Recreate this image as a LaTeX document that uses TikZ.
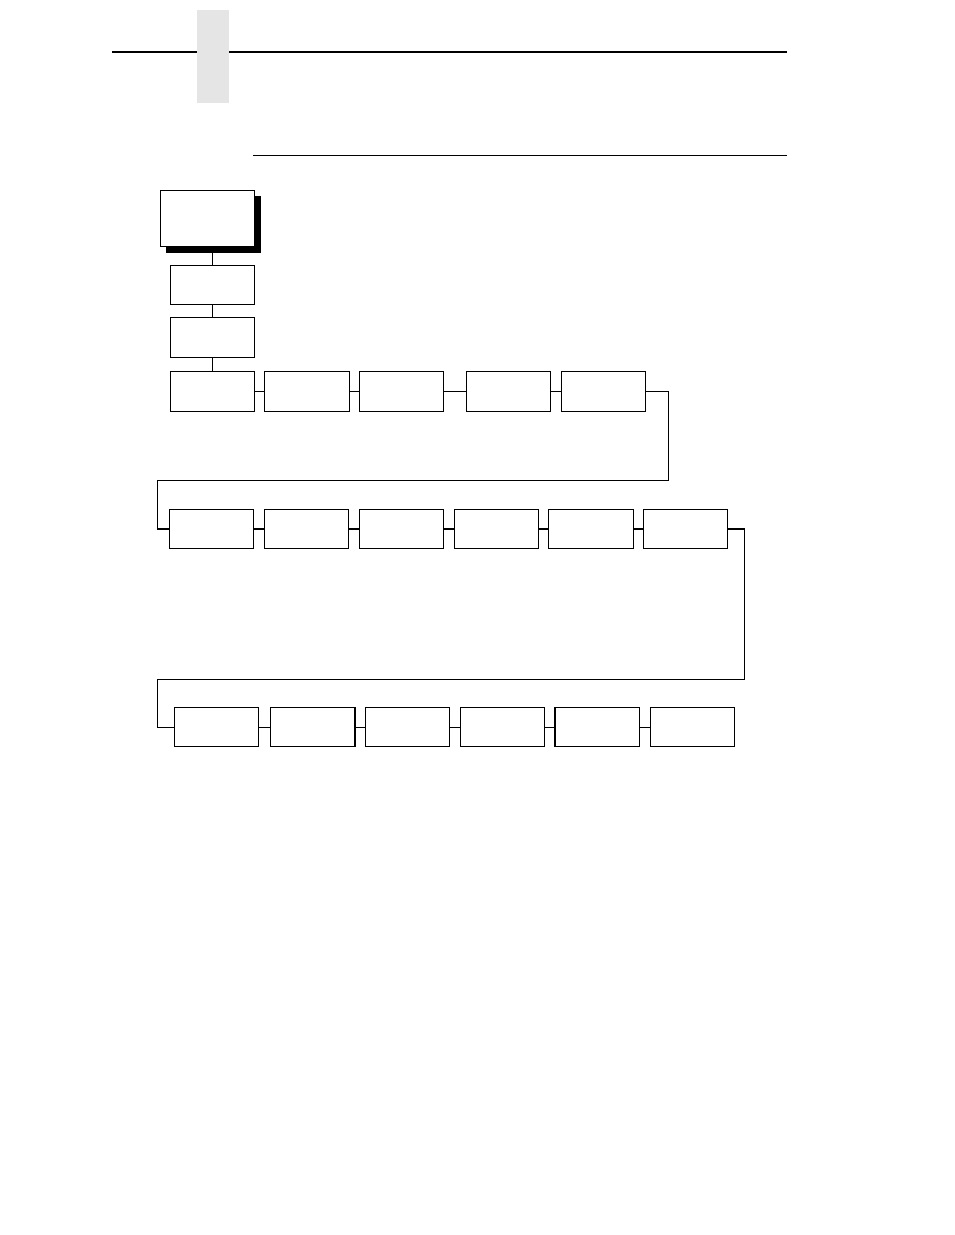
\documentclass[tikz,border=0pt]{standalone}
\begin{document}
\begin{tikzpicture}[x=1pt,y=-1pt,
  bx/.style={draw=black,fill=white,line width=1.2pt,inner sep=0pt,rectangle},
  ln/.style={line width=1.2pt}]
\useasboundingbox (0,0) rectangle (954,1235);
% header
\fill[black!10] (196.7,10) rectangle (229,102.7);
\draw[line width=2pt] (112,51.7) -- (196.7,51.7);
\draw[line width=2pt] (229,51.7) -- (787,51.7);
\draw[line width=1pt] (253,155) -- (787,155);
% top box with shadow
\fill[black] (166,196) rectangle (261,252.7);
\node[bx,minimum width=94.4,minimum height=56.4] (top) at (207.5,218.5) {};
\node[bx,minimum width=84.4,minimum height=39] (b2) at (212.5,284.8) {};
\node[bx,minimum width=84.4,minimum height=40] (b3) at (212.5,337.3) {};
% row 1
\node[bx,minimum width=84.4,minimum height=40] (r1a) at (212.5,391.3) {};
\node[bx,minimum width=85,minimum height=40] (r1b) at (306.8,391.3) {};
\node[bx,minimum width=84.4,minimum height=40] (r1c) at (401.5,391.3) {};
\node[bx,minimum width=84.4,minimum height=40] (r1d) at (508.5,391.3) {};
\node[bx,minimum width=84.4,minimum height=40] (r1e) at (603.5,391.3) {};
% row 2
\node[bx,minimum width=84,minimum height=39.4] (r2a) at (211.3,529) {};
\node[bx,minimum width=84.4,minimum height=39.4] (r2b) at (306.5,529) {};
\node[bx,minimum width=84,minimum height=39.4] (r2c) at (401.3,529) {};
\node[bx,minimum width=84.4,minimum height=39.4] (r2d) at (496.5,529) {};
\node[bx,minimum width=85,minimum height=39.4] (r2e) at (590.8,529) {};
\node[bx,minimum width=84.4,minimum height=39.4] (r2f) at (685.5,529) {};
% row 3
\node[bx,minimum width=84,minimum height=39.3] (r3a) at (216.3,727.1) {};
\node[bx,minimum width=84.7,minimum height=39.3] (r3b) at (312.6,727.1) {};
\node[bx,minimum width=84.2,minimum height=39.3] (r3c) at (407.4,727.1) {};
\node[bx,minimum width=84.4,minimum height=39.3] (r3d) at (502.5,727.1) {};
\node[bx,minimum width=84.7,minimum height=39.3] (r3e) at (597.3,727.1) {};
\node[bx,minimum width=84.4,minimum height=39.3] (r3f) at (692.5,727.1) {};
% connectors
\coordinate (c1) at (668.7,480.3);
\coordinate (c2) at (157.3,480.3);
\coordinate (c3) at (744.3,679.3);
\coordinate (c4) at (157.3,679.3);
\draw[ln] (b2.north) -- (b2.north |- top.south);
\draw[ln] (b3.north) -- (b2.south);
\draw[ln] (r1a.north) -- (b3.south);
\draw[ln] (r1a) -- (r1b);
\draw[ln] (r1b) -- (r1c);
\draw[ln] (r1c) -- (r1d);
\draw[ln] (r1d) -- (r1e);
\draw[ln] (r1e.east) -| (c1) -- (c2) |- (r2a.west);
\draw[ln] (r2a) -- (r2b);
\draw[ln] (r2b) -- (r2c);
\draw[ln] (r2c) -- (r2d);
\draw[ln] (r2d) -- (r2e);
\draw[ln] (r2e) -- (r2f);
\draw[ln] (r2f.east) -| (c3) -- (c4) |- (r3a.west);
\draw[ln] (r3a) -- (r3b);
\draw[ln] (r3b) -- (r3c);
\draw[ln] (r3c) -- (r3d);
\draw[ln] (r3d) -- (r3e);
\draw[ln] (r3e) -- (r3f);
\end{tikzpicture}
\end{document}
